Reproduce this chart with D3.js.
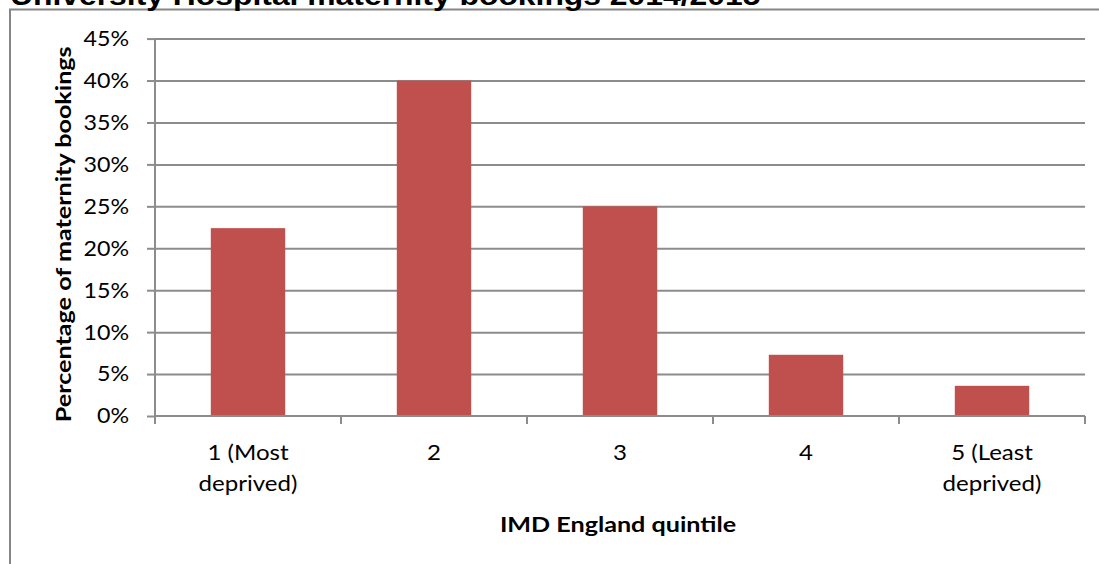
<!DOCTYPE html>
<html>
<head>
<meta charset="utf-8">
<script src="https://cdn.jsdelivr.net/npm/d3@7"></script>
<style>
  html, body { margin: 0; padding: 0; background: #fff; }
  svg { display: block; }
</style>
</head>
<body>
<svg id="chart" width="1099" height="564"></svg>
<script>
// Share of maternity bookings by IMD England quintile
const quintiles = ["1 (Most\ndeprived)", "2", "3", "4", "5 (Least\ndeprived)"];
const bookingShare = [0.224, 0.400, 0.250, 0.073, 0.036];
const yTicks = [0, 0.05, 0.10, 0.15, 0.20, 0.25, 0.30, 0.35, 0.40, 0.45];

const titleText = "University Hospital maternity bookings 2014/2015";
const yTitle = "Percentage of maternity bookings";
const xTitle = "IMD England quintile";

const W = 1099, H = 564;
const plot = { left: 155, right: 1085, top: 38.6, bottom: 416 };
const gridColor = "#8c8c8c";
const barColor = "#c0504d";
const labelFont = "Lato, 'Open Sans', sans-serif";

const svg = d3.select("#chart");

// outer chart frame
svg.append("rect")
  .attr("x", 10).attr("y", 9.5)
  .attr("width", W + 20).attr("height", H + 20)
  .attr("fill", "#fff")
  .attr("stroke", "#868686").attr("stroke-width", 2);

// title sits above the frame, partly clipped by the page top
svg.append("text")
  .attr("transform", "translate(10,5) scale(1.18,1)")
  .attr("font-family", "'Liberation Sans', Arial, sans-serif")
  .attr("font-weight", "bold")
  .attr("font-size", 27)
  .attr("fill", "#000")
  .text(titleText);

const x = d3.scaleBand()
  .domain(quintiles)
  .range([plot.left, plot.right])
  .paddingInner(0.6)
  .paddingOuter(0.3);

const y = d3.scaleLinear()
  .domain([0, 0.45])
  .range([plot.bottom, plot.top]);

// horizontal gridlines
const grid = svg.append("g")
  .attr("transform", `translate(${plot.left},0)`)
  .call(d3.axisLeft(y).tickValues(yTicks.slice(1)).tickSize(-(plot.right - plot.left)).tickFormat(""));
grid.select(".domain").remove();
grid.selectAll("line").attr("stroke", gridColor).attr("stroke-width", 2);

// bars
svg.append("g").selectAll("rect")
  .data(quintiles)
  .join("rect")
  .attr("x", d => x(d))
  .attr("width", x.bandwidth())
  .attr("y", (d, i) => y(bookingShare[i]))
  .attr("height", (d, i) => y(0) - y(bookingShare[i]))
  .attr("fill", barColor);

// y axis
const yAxis = svg.append("g")
  .attr("transform", `translate(${plot.left},0)`)
  .call(d3.axisLeft(y).tickValues(yTicks).tickSize(8).tickPadding(18)
    .tickFormat(d => Math.round(d * 100) + "%"));
yAxis.select(".domain").remove();
yAxis.selectAll("line").attr("stroke", gridColor).attr("stroke-width", 2);
yAxis.selectAll("text")
  .attr("font-family", labelFont)
  .attr("font-size", 21.5)
  .attr("fill", "#000")
  .each(function () {
    const t = d3.select(this);
    const xx = +t.attr("x");
    t.attr("x", null)
     .attr("transform", `translate(${xx},0) scale(1.08,1)`);
  });

// vertical axis line, running down to the category tick length
svg.append("line")
  .attr("x1", plot.left).attr("x2", plot.left)
  .attr("y1", plot.top).attr("y2", plot.bottom + 8)
  .attr("stroke", gridColor).attr("stroke-width", 2);

// x axis baseline and category boundary ticks
svg.append("line")
  .attr("x1", plot.left).attr("x2", plot.right)
  .attr("y1", plot.bottom).attr("y2", plot.bottom)
  .attr("stroke", gridColor).attr("stroke-width", 2);
svg.append("g").selectAll("line")
  .data(d3.range(quintiles.length + 1))
  .join("line")
  .attr("x1", i => plot.left + i * x.step())
  .attr("x2", i => plot.left + i * x.step())
  .attr("y1", plot.bottom).attr("y2", plot.bottom + 8)
  .attr("stroke", gridColor).attr("stroke-width", 2);

// category labels
const catLabels = svg.append("g").selectAll("text")
  .data(quintiles)
  .join("text")
  .attr("transform", d => `translate(${x(d) + x.bandwidth() / 2},460) scale(1.12,1)`)
  .attr("text-anchor", "middle")
  .attr("font-family", labelFont)
  .attr("font-size", 21.5)
  .attr("fill", "#000");
catLabels.each(function (d) {
  d3.select(this).selectAll("tspan")
    .data(d.split("\n"))
    .join("tspan")
    .attr("x", 0)
    .attr("dy", (s, i) => i === 0 ? 0 : 31)
    .text(s => s);
});

// axis titles
svg.append("text")
  .attr("transform", `translate(${(plot.left + plot.right) / 2 - 2},532) scale(1.17,1)`)
  .attr("text-anchor", "middle")
  .attr("font-family", labelFont)
  .attr("font-weight", "bold")
  .attr("font-size", 21.5)
  .attr("fill", "#000")
  .text(xTitle);

svg.append("text")
  .attr("transform", `translate(71,${(plot.top + plot.bottom) / 2 + 7}) rotate(-90) scale(1.17,1)`)
  .attr("text-anchor", "middle")
  .attr("font-family", labelFont)
  .attr("font-weight", "bold")
  .attr("font-size", 21.5)
  .attr("fill", "#000")
  .text(yTitle);
</script>
</body>
</html>
